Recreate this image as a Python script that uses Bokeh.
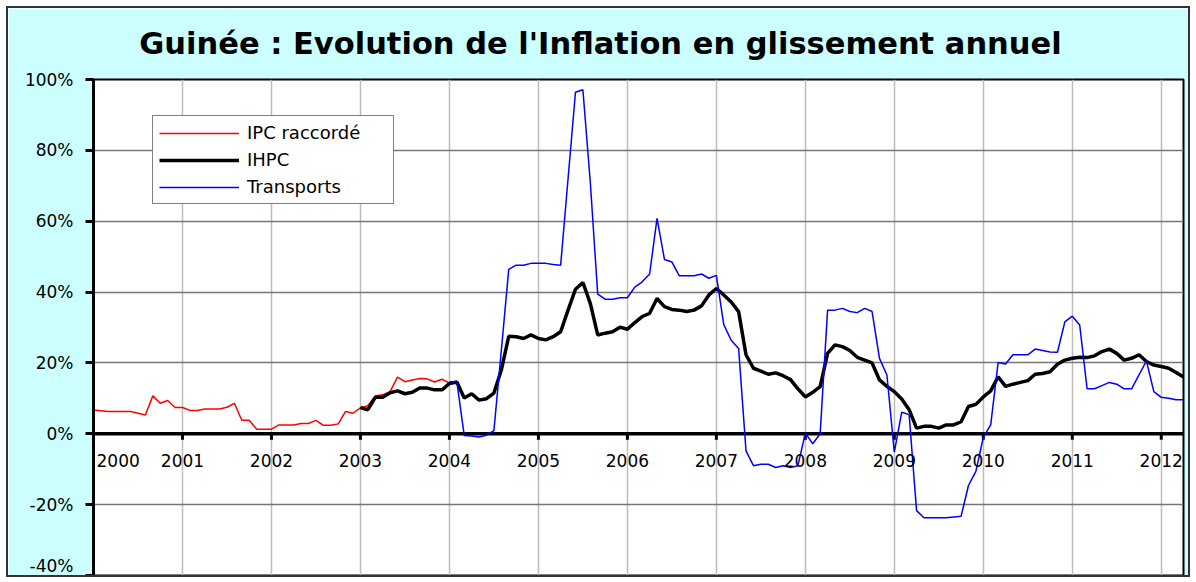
import numpy as np
from bokeh.plotting import figure
from bokeh.models import (Range1d, FixedTicker, PrintfTickFormatter, Span,
                          Legend, LegendItem, Label, LinearAxis, CustomJSTickFormatter)
from bokeh.core.properties import value
from bokeh.embed import file_html
from bokeh.resources import INLINE

# ---------------- data (monthly, year-on-year inflation in %) ----------------
title_text = "Guinée : Evolution de l'Inflation en glissement annuel"
series_names = ["IPC raccordé", "IHPC", "Transports"]

ipc_start_year = 2000  # first value = January 2000
ipc_raccorde = [
    6.7, 6.5, 6.3, 6.3, 6.3, 6.3, 5.8, 5.3, 10.7, 8.6, 9.4, 7.4,
    7.4, 6.6, 6.6, 7.0, 7.0, 7.0, 7.5, 8.6, 3.8, 3.8, 1.3, 1.3,
    1.3, 2.5, 2.5, 2.5, 2.9, 2.9, 3.8, 2.4, 2.4, 2.8, 6.3, 5.8,
    7.3, 7.9, 10.7, 11.0, 11.9, 16.0, 14.7, 15.2, 15.6, 15.5, 14.6, 15.4,
    14.3,
]

ihpc_start_year = 2003  # first value = January 2003
ihpc = [
    7.4, 6.8, 10.3, 10.3, 11.6, 12.1, 11.3, 11.7, 12.9, 12.9, 12.4, 12.4,
    14.2, 14.6, 10.1, 11.3, 9.5, 9.9, 11.5, 18.0, 27.5, 27.4, 26.9, 27.9,
    26.9, 26.5, 27.4, 28.8, 34.9, 40.8, 42.7, 36.8, 27.9, 28.4, 28.8, 30.1,
    29.5, 31.4, 33.1, 34.0, 38.2, 35.9, 35.1, 34.9, 34.5, 34.9, 36.1, 39.2,
    41.0, 39.2, 37.2, 34.5, 22.3, 18.5, 17.7, 16.8, 17.2, 16.4, 15.3, 12.7,
    10.4, 11.7, 13.3, 22.7, 25.1, 24.6, 23.5, 21.6, 20.8, 20.0, 15.2, 13.4,
    11.9, 9.8, 6.8, 1.6, 2.1, 2.1, 1.6, 2.5, 2.5, 3.4, 7.7, 8.3,
    10.4, 12.1, 16.1, 13.4, 14.0, 14.5, 15.0, 16.8, 17.0, 17.5, 19.6, 20.8,
    21.3, 21.6, 21.5, 22.0, 23.2, 23.9, 22.7, 20.8, 21.3, 22.3, 20.4, 19.4,
    19.0, 18.5, 17.3, 16.0,
]

transports_start_year = 2004  # first value = January 2004
transports = [
    14.7, 14.7, -0.5, -0.6, -0.9, -0.4, 0.9, 23.5, 46.4, 47.6, 47.6, 48.1,
    48.1, 48.1, 47.8, 47.6, 72.0, 96.4, 97.1, 71.0, 39.4, 38.0, 38.0, 38.4,
    38.4, 41.4, 42.9, 45.1, 60.8, 49.2, 48.5, 44.6, 44.6, 44.6, 45.1, 43.9,
    44.7, 30.8, 26.4, 24.1, -4.8, -9.0, -8.6, -8.6, -9.5, -9.0, -9.5, -9.0,
    0.2, -2.8, 0.0, 34.9, 34.9, 35.4, 34.5, 34.2, 35.4, 34.5, 21.3, 16.6,
    -5.2, 6.1, 5.4, -21.7, -23.7, -23.7, -23.7, -23.7, -23.5, -23.3, -14.6, -10.6,
    -1.0, 2.5, 20.1, 19.7, 22.3, 22.3, 22.3, 23.9, 23.5, 23.1, 23.0, 31.6,
    33.2, 30.7, 12.7, 12.7, 13.6, 14.5, 14.0, 12.7, 12.7, 16.6, 20.6, 11.9,
    10.3, 10.0, 9.6, 9.6,
]

year_ticks = [2000, 2001, 2002, 2003, 2004, 2005, 2006, 2007, 2008, 2009, 2010, 2011, 2012]
year_labels = ["2000", "2001", "2002", "2003", "2004", "2005", "2006",
               "2007", "2008", "2009", "2010", "2011", "2012"]
pct_ticks = [-40, -20, 0, 20, 40, 60, 80, 100]


def monthly_x(start_year, values):
    return [start_year + i / 12.0 for i in range(len(values))]


x_ipc = monthly_x(ipc_start_year, ipc_raccorde)
x_ihpc = monthly_x(ihpc_start_year, ihpc)
x_tr = monthly_x(transports_start_year, transports)

# ---------------- figure ----------------
FONT = "DejaVu Sans"
W, H = 1184, 571
MB_TOP, MB_BOTTOM, MB_LEFT, MB_RIGHT = 71, 4, 85, 9
frame_h = H - MB_TOP - MB_BOTTOM
frame_w = W - MB_LEFT - MB_RIGHT
LABEL_DROP_PX = 27      # year labels sit this far below the zero line
TITLE_CENTER_PX = 507   # title centre, measured from the left of the plot area
px_per_unit = frame_h / (pct_ticks[-1] - pct_ticks[0])
x_lo, x_hi = year_ticks[0], x_ihpc[-1]

p = figure(width=W, height=H, output_backend="svg", toolbar_location=None,
           x_range=Range1d(x_lo, x_hi),
           y_range=Range1d(pct_ticks[0], pct_ticks[-1]),
           x_axis_location=None,
           min_border_top=MB_TOP, min_border_bottom=MB_BOTTOM,
           min_border_left=MB_LEFT, min_border_right=MB_RIGHT,
           background_fill_color="white", border_fill_color="#CCFFFF")
p.styles = {"border": "2px solid #333333", "margin": "6px 0 0 6px"}
p.title.visible = False

p.outline_line_color = "black"
p.outline_line_width = 2

# title, drawn as the single label of a line-less axis above the plot
title_axis = LinearAxis(ticker=FixedTicker(ticks=[x_lo + TITLE_CENTER_PX * (x_hi - x_lo) / frame_w]),
                        formatter=CustomJSTickFormatter(args=dict(t=title_text), code="return t"),
                        axis_line_color=None, major_tick_line_color=None,
                        minor_tick_line_color=None,
                        major_tick_out=0, major_tick_in=0,
                        minor_tick_out=0, minor_tick_in=0,
                        major_label_standoff=19,
                        major_label_text_font=FONT,
                        major_label_text_font_style="bold",
                        major_label_text_font_size="30.5px",
                        major_label_text_color="black")
p.add_layout(title_axis, "above")

# y axis
p.yaxis.ticker = FixedTicker(ticks=pct_ticks)
p.yaxis.formatter = PrintfTickFormatter(format="%d%%")
p.yaxis.axis_line_width = 3
p.yaxis.axis_line_color = "black"
p.yaxis.major_tick_out = 8
p.yaxis.major_tick_in = 0
p.yaxis.major_tick_line_width = 3
p.yaxis.minor_tick_line_color = None
p.yaxis.major_label_text_font = FONT
p.yaxis.major_label_text_font_size = "17px"
p.yaxis.major_label_text_color = "black"
p.yaxis.major_label_standoff = 12

# grids
p.ygrid.ticker = FixedTicker(ticks=pct_ticks)
p.ygrid.grid_line_color = "#777777"
p.ygrid.grid_line_width = 1.3
p.xgrid.ticker = FixedTicker(ticks=year_ticks)
p.xgrid.grid_line_color = "#BDBDBD"
p.xgrid.grid_line_width = 1.5

# zero line acting as the x axis
zero = Span(location=0, dimension="width", line_color="black", line_width=3.5, level="underlay")
p.add_layout(zero)

tick_len = 6 / px_per_unit
p.segment(x0=year_ticks, y0=[0] * len(year_ticks), x1=year_ticks,
          y1=[-tick_len] * len(year_ticks), line_color="black", line_width=3)

for i, (yr, lbl) in enumerate(zip(year_ticks, year_labels)):
    # the first label would straddle the plot edge, so it starts at the edge
    p.add_layout(Label(x=yr, y=0, text=lbl,
                       text_align="left" if i == 0 else "center",
                       x_offset=3 if i == 0 else 0,
                       text_baseline="middle", y_offset=-LABEL_DROP_PX,
                       text_font=FONT, text_font_size="17px",
                       text_color="black"))

# series
r_ipc = p.line(x_ipc, ipc_raccorde, line_color="#FF0000", line_width=1.5)
r_ihpc = p.line(x_ihpc, ihpc, line_color="black", line_width=3.5)
r_tr = p.line(x_tr, transports, line_color="#0000FF", line_width=1.5)

legend_h = 89
legend = Legend(items=[LegendItem(label=series_names[0], renderers=[r_ipc]),
                       LegendItem(label=series_names[1], renderers=[r_ihpc]),
                       LegendItem(label=series_names[2], renderers=[r_tr])],
                location=(59, frame_h - 36 - legend_h),
                padding=6, spacing=6, margin=0,
                glyph_width=80, glyph_height=20, label_height=20, label_width=140,
                label_standoff=8,
                label_text_font=FONT, label_text_font_size="18px",
                label_text_color="black",
                border_line_color="black", border_line_width=1,
                background_fill_color="white", background_fill_alpha=1.0)
p.add_layout(legend)

open("out.html", "w").write(file_html(p, INLINE))
